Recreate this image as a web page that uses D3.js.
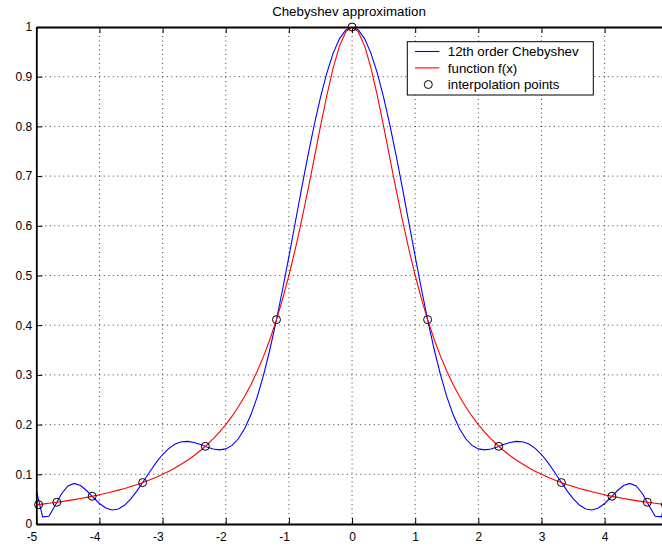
<!DOCTYPE html>
<html>
<head>
<meta charset="utf-8">
<title>Chebyshev approximation</title>
<script src="https://cdn.jsdelivr.net/npm/d3@7"></script>
<style>
    body { margin: 0; background: #fff; }
    svg { display: block; font-family: "Liberation Sans", Arial, Helvetica, sans-serif; }
</style>
</head>
<body>
<div id="chart-area"></div>
<script>
// sample positions, x = -5 .. 5 step 0.1
var sampleX = [-5,-4.9,-4.8,-4.7,-4.6,-4.5,-4.4,-4.3,-4.2,-4.1,
    -4,-3.9,-3.8,-3.7,-3.6,-3.5,-3.4,-3.3,-3.2,-3.1,
    -3,-2.9,-2.8,-2.7,-2.6,-2.5,-2.4,-2.3,-2.2,-2.1,
    -2,-1.9,-1.8,-1.7,-1.6,-1.5,-1.4,-1.3,-1.2,-1.1,
    -1,-0.9,-0.8,-0.7,-0.6,-0.5,-0.4,-0.3,-0.2,-0.1,
    0,
    0.1,0.2,0.3,0.4,0.5,0.6,0.7,0.8,0.9,1,
    1.1,1.2,1.3,1.4,1.5,1.6,1.7,1.8,1.9,2,
    2.1,2.2,2.3,2.4,2.5,2.6,2.7,2.8,2.9,3,
    3.1,3.2,3.3,3.4,3.5,3.6,3.7,3.8,3.9,4,
    4.1,4.2,4.3,4.4,4.5,4.6,4.7,4.8,4.9,5];

// 12th order Chebyshev curve (blue)
var chebY = [0.0677,0.0144,0.0157,0.0376,0.0609,0.0765,0.0816,0.0774,0.0669,0.0538,
    0.0413,0.0323,0.0283,0.0303,0.0381,0.0510,0.0676,0.0864,0.1057,0.1239,
    0.1398,0.1523,0.1609,0.1654,0.1663,0.1641,0.1600,0.1551,0.1510,0.1492,
    0.1511,0.1582,0.1715,0.1920,0.2202,0.2564,0.3004,0.3516,0.4091,0.4718,
    0.5380,0.6061,0.6741,0.7402,0.8023,0.8586,0.9073,0.9469,0.9761,0.9940,
    1.0000,
    0.9940,0.9761,0.9469,0.9073,0.8586,0.8023,0.7402,0.6741,0.6061,0.5380,
    0.4718,0.4091,0.3516,0.3004,0.2564,0.2202,0.1920,0.1715,0.1582,0.1511,
    0.1492,0.1510,0.1551,0.1600,0.1641,0.1663,0.1654,0.1609,0.1523,0.1398,
    0.1239,0.1057,0.0864,0.0676,0.0510,0.0381,0.0303,0.0283,0.0323,0.0413,
    0.0538,0.0669,0.0774,0.0816,0.0765,0.0609,0.0376,0.0157,0.0144,0.0677];

// function f(x) (red)
var funcY = [0.0385,0.0400,0.0416,0.0433,0.0451,0.0471,0.0491,0.0513,0.0536,0.0561,
    0.0588,0.0617,0.0648,0.0681,0.0716,0.0755,0.0796,0.0841,0.0890,0.0943,
    0.1000,0.1063,0.1131,0.1206,0.1289,0.1379,0.1479,0.1590,0.1712,0.1848,
    0.2000,0.2169,0.2358,0.2571,0.2809,0.3077,0.3378,0.3717,0.4098,0.4525,
    0.5000,0.5525,0.6098,0.6711,0.7353,0.8000,0.8621,0.9174,0.9615,0.9901,
    1.0000,
    0.9901,0.9615,0.9174,0.8621,0.8000,0.7353,0.6711,0.6098,0.5525,0.5000,
    0.4525,0.4098,0.3717,0.3378,0.3077,0.2809,0.2571,0.2358,0.2169,0.2000,
    0.1848,0.1712,0.1590,0.1479,0.1379,0.1289,0.1206,0.1131,0.1063,0.1000,
    0.0943,0.0890,0.0841,0.0796,0.0755,0.0716,0.0681,0.0648,0.0617,0.0588,
    0.0561,0.0536,0.0513,0.0491,0.0471,0.0451,0.0433,0.0416,0.0400,0.0385];

// interpolation points
var nodeX = [-4.9635,-4.6751,-4.1149,-3.3156,-2.3236,-1.1966,0,1.1966,2.3236,3.3156,4.1149,4.6751,4.9635];
var nodeY = [0.0390,0.0438,0.0558,0.0834,0.1563,0.4112,1,0.4112,0.1563,0.0834,0.0558,0.0438,0.0390];

var xTicks = [-5,-4,-3,-2,-1,0,1,2,3,4,5];
var yTicks = [0,0.1,0.2,0.3,0.4,0.5,0.6,0.7,0.8,0.9,1];
var yTickLabels = ["0","0.1","0.2","0.3","0.4","0.5","0.6","0.7","0.8","0.9","1"];

var legendLabels = ["12th order Chebyshev", "function f(x)", "interpolation points"];

var width = 662, height = 547;
// plot box; the figure is cut off on the right, so x = 5 lies past the edge...
var plotLeft = 36.3, plotRight = 667.8, plotTop = 27, plotBottom = 524;

var svg = d3.select("#chart-area").append("svg")
    .attr("width", width)
    .attr("height", height);

svg.append("rect").attr("width", width).attr("height", height).attr("fill", "#fff");

var x = d3.scaleLinear().domain([-5, 5]).range([plotLeft, plotRight]);
var y = d3.scaleLinear().domain([0, 1]).range([plotBottom, plotTop]);

// dotted grid
svg.append("g").selectAll("line")
    .data(xTicks.slice(1, -1))
    .enter().append("line")
    .attr("x1", function (d) { return x(d); })
    .attr("x2", function (d) { return x(d); })
    .attr("y1", plotTop).attr("y2", plotBottom)
    .attr("stroke", "#000").attr("stroke-opacity", 0.75)
    .attr("stroke-dasharray", "1,3.5");

svg.append("g").selectAll("line")
    .data(yTicks.slice(1, -1))
    .enter().append("line")
    .attr("x1", plotLeft).attr("x2", plotRight)
    .attr("y1", function (d) { return y(d); })
    .attr("y2", function (d) { return y(d); })
    .attr("stroke", "#000").attr("stroke-opacity", 0.75)
    .attr("stroke-dasharray", "1,3.5");

// curves
svg.append("clipPath").attr("id", "plot-clip")
    .append("rect").attr("x", plotLeft).attr("y", plotTop)
    .attr("width", plotRight - plotLeft).attr("height", plotBottom - plotTop);

var line = d3.line()
    .x(function (d) { return x(d[0]); })
    .y(function (d) { return y(d[1]); });

svg.append("path")
    .datum(d3.zip(sampleX, chebY))
    .attr("clip-path", "url(#plot-clip)")
    .attr("fill", "none").attr("stroke", "#0000ff").attr("stroke-width", 1.1)
    .attr("d", line);

svg.append("path")
    .datum(d3.zip(sampleX, funcY))
    .attr("clip-path", "url(#plot-clip)")
    .attr("fill", "none").attr("stroke", "#ff0000").attr("stroke-width", 1.1)
    .attr("d", line);

svg.append("g").selectAll("circle")
    .data(d3.zip(nodeX, nodeY))
    .enter().append("circle")
    .attr("cx", function (d) { return x(d[0]); })
    .attr("cy", function (d) { return y(d[1]); })
    .attr("r", 4)
    .attr("fill", "none").attr("stroke", "#000").attr("stroke-width", 1);

// axes box with inward ticks
var xAxis = svg.append("g")
    .attr("transform", "translate(0," + plotBottom + ")")
    .call(d3.axisBottom(x).tickValues(xTicks).tickSize(-6).tickSizeOuter(0).tickPadding(8)
        .tickFormat(function (d) { return String(d); }));

xAxis.selectAll(".tick text")
    .attr("font-size", 12)
    .attr("fill", "#000")
    .attr("text-anchor", function (d) { return d < 0 ? "end" : "middle"; })
    .attr("x", function (d) { return d < 0 ? 0.5 : 0; });

// the "5" label falls outside the cropped figure
xAxis.selectAll(".tick text").filter(function (d) { return x(d) > width; }).remove();

var yAxis = svg.append("g")
    .attr("transform", "translate(" + plotLeft + ",0)")
    .call(d3.axisLeft(y).tickValues(yTicks).tickSize(-6).tickSizeOuter(0).tickPadding(4)
        .tickFormat(function (d, i) { return yTickLabels[i]; }));

yAxis.selectAll(".tick text")
    .attr("font-size", 12)
    .attr("fill", "#000");

svg.append("g")
    .attr("transform", "translate(0," + plotTop + ")")
    .call(d3.axisTop(x).tickValues(xTicks).tickSize(-6).tickSizeOuter(0).tickFormat(""));

svg.append("g")
    .attr("transform", "translate(" + plotRight + ",0)")
    .call(d3.axisRight(y).tickValues(yTicks).tickSize(-6).tickSizeOuter(0).tickFormat(""));

svg.selectAll("g").attr("font-family", null);
svg.selectAll(".domain").attr("stroke", "#000").attr("stroke-width", 1.8);
svg.selectAll(".tick line").attr("stroke", "#000").attr("stroke-width", 1);

// title
svg.append("text")
    .attr("x", 349).attr("y", 16)
    .attr("text-anchor", "middle")
    .attr("font-size", 13.3)
    .text("Chebyshev approximation");

// legend
var legend = svg.append("g").attr("transform", "translate(407.3,41.7)");

legend.append("rect")
    .attr("width", 186).attr("height", 53.3)
    .attr("fill", "#fff").attr("stroke", "#000").attr("stroke-width", 1);

var rowY = [9.8, 26.2, 42.8];
var legendColors = ["#0000ff", "#ff0000"];

legend.selectAll("line.key")
    .data(legendColors)
    .enter().append("line")
    .attr("class", "key")
    .attr("x1", 7.7).attr("x2", 32)
    .attr("y1", function (d, i) { return rowY[i]; })
    .attr("y2", function (d, i) { return rowY[i]; })
    .attr("stroke", function (d) { return d; })
    .attr("stroke-width", 1.1);

legend.append("circle")
    .attr("cx", 21).attr("cy", rowY[2]).attr("r", 4)
    .attr("fill", "none").attr("stroke", "#000");

legend.selectAll("text")
    .data(legendLabels)
    .enter().append("text")
    .attr("x", 40.5)
    .attr("y", function (d, i) { return rowY[i]; })
    .attr("dy", "0.35em")
    .attr("font-size", 13.3)
    .text(function (d) { return d; });
</script>
</body>
</html>
